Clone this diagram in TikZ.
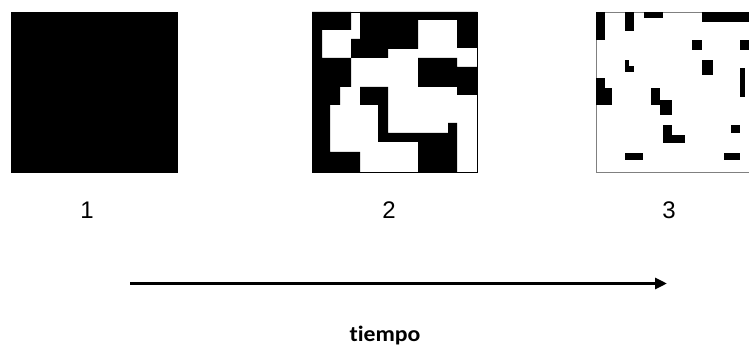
\documentclass[tikz,border=0pt]{standalone}
\usepackage{fontspec}
\setmainfont{Liberation Sans}
\newfontfamily\tfont[Ligatures=NoCommon]{Carlito}
\usetikzlibrary{arrows.meta}
\begin{document}
\begin{tikzpicture}[x=1pt,y=-1pt,
  sq/.style={draw, line width=0.8pt, minimum width=165pt, minimum height=160pt, inner sep=0pt, anchor=north west},
  blk/.style={fill=black},
  num/.style={font=\fontsize{24}{24}\selectfont, anchor=base, inner sep=0pt},
  timearrow/.style={line width=3.2pt, -{Triangle[length=12pt,width=11pt]}}]
\useasboundingbox (0,0) rectangle (749,347);
\clip (0,0) rectangle (749,347);
% square 1
\node[sq, fill=black, minimum width=166pt] (s1) at (11,12) {};
% square 2
\node[sq, fill=white] (s2) at (312,12) {};
\fill[blk] (312,12)--(351,12)--(351,30)--(322,30)--(322,58)--(351,58)--(351,87)--(340,87)--(340,105)--(330,105)--(330,152)--(360,152)--(360,172)--(312,172)--cycle;
\fill[blk] (360,12)--(477,12)--(477,48)--(457,48)--(457,20)--(418,20)--(418,49)--(388,49)--(388,58)--(351,58)--(351,39)--(360,39)--cycle;
\fill[blk] (418,58)--(457,58)--(457,67)--(477,67)--(477,95)--(457,95)--(457,87)--(418,87)--cycle;
\fill[blk] (360,87)--(388,87)--(388,133)--(448,133)--(448,123)--(457,123)--(457,172)--(418,172)--(418,142)--(378,142)--(378,105)--(360,105)--cycle;
% square 3
\node[sq, draw=gray, line width=0.6pt, fill=white] (s3) at (596,12) {};
\fill[blk] (596,12) rectangle (605,40);
\fill[blk] (625,12) rectangle (634,31);
\fill[blk] (644,12) rectangle (663,18);
\fill[blk] (702,12) rectangle (750,22);
\fill[blk] (692,40) rectangle (702,50);
\fill[blk] (740,40) rectangle (750,50);
\fill[blk] (625,60) rectangle (629,72);
\fill[blk] (625,66) rectangle (634,72);
\fill[blk] (702,60) rectangle (713,75);
\fill[blk] (740,68) rectangle (745,97);
\fill[blk] (596,78) rectangle (605,105);
\fill[blk] (605,88) rectangle (612,105);
\fill[blk] (651,88) rectangle (660,105);
\fill[blk] (660,100) rectangle (672,115);
\fill[blk] (663,125) rectangle (672,143);
\fill[blk] (672,135) rectangle (685,143);
\fill[blk] (731,125) rectangle (740,133);
\fill[blk] (625,153) rectangle (643,160);
\fill[blk] (724,153) rectangle (740,160);
% labels
\node[num] (l1) at (87,219) {1};
\node[num] (l2) at (389,219) {2};
\node[num] (l3) at (669,219) {3};
% time arrow
\coordinate (a) at (130,283.5);
\coordinate (b) at (667,283.5);
\draw[timearrow] (a) -- (b);
\node[font=\tfont\bfseries\fontsize{22}{22}\selectfont, anchor=base, xscale=1.08, inner sep=0pt] (t) at (385,341) {tiempo};
\end{tikzpicture}
\end{document}
